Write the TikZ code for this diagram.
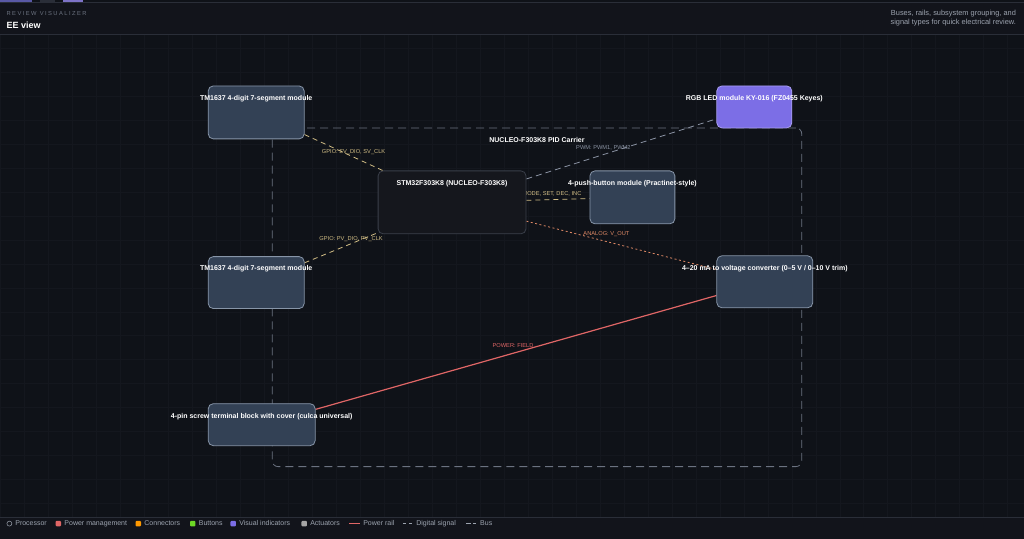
\documentclass[tikz,border=0pt]{standalone}
\usepackage{fontspec}
\setmainfont{Liberation Sans}
\newfontfamily\trackfont[LetterSpace=25]{Liberation Sans}
\usetikzlibrary{positioning, backgrounds, calc}
\definecolor{canvas}{HTML}{0F1218}
\definecolor{headbg}{HTML}{12141B}
\definecolor{gridline}{HTML}{14171E}
\definecolor{rulegray}{HTML}{2A2E38}
\definecolor{slatefill}{HTML}{334155}
\definecolor{slateedge}{HTML}{8795A8}
\definecolor{cpufill}{HTML}{15171D}
\definecolor{cpuedge}{HTML}{3A3F4A}
\definecolor{ledfill}{HTML}{7C6EE6}
\definecolor{lededge}{HTML}{A99EF2}
\definecolor{groupgray}{HTML}{6B7280}
\definecolor{gpiotan}{HTML}{D2BE86}
\definecolor{busgray}{HTML}{8A92A2}
\definecolor{analogorange}{HTML}{E08A66}
\definecolor{powerred}{HTML}{E06666}
\definecolor{mutedtext}{HTML}{9CA3AF}
\definecolor{dimtext}{HTML}{6B7280}

\begin{document}
\begin{tikzpicture}[
  x=1pt, y=-1pt,
  module/.style={rectangle, rounded corners=5pt, draw=slateedge, fill=slatefill,
                 line width=0.8pt, inner sep=0pt},
  cpu/.style={module, draw=cpuedge, fill=cpufill},
  led/.style={module, draw=lededge, fill=ledfill},
  modlbl/.style={anchor=center, yshift=-13pt, inner sep=0pt,
                 font=\fontsize{7}{8}\selectfont\bfseries, text=white},
  groupbox/.style={rectangle, rounded corners=6pt, draw=groupgray, line width=0.8pt,
                   dash pattern=on 8pt off 5pt, inner sep=0pt},
  gpio/.style={draw=gpiotan, line width=0.8pt, dash pattern=on 5pt off 4pt},
  bus/.style={draw=busgray, line width=0.8pt, dash pattern=on 6pt off 4pt},
  analog/.style={draw=analogorange, line width=0.8pt, dash pattern=on 2pt off 2.5pt},
  power/.style={draw=powerred, line width=1.2pt},
  elbl/.style={font=\fontsize{5.7}{6}\selectfont, inner sep=1pt},
  legtxt/.style={anchor=west, inner sep=0pt, text height=5pt, text depth=1.5pt,
                 font=\fontsize{7}{8}\selectfont, text=mutedtext},
  swatch/.style={rectangle, rounded corners=1pt, minimum size=5.5pt, inner sep=0pt},
]
% modules
\node[module, minimum width=96pt, minimum height=53pt,
      label={[modlbl]north:TM1637 4-digit 7-segment module}] (segsv) at (256,112.5) {};
\node[module, minimum width=96pt, minimum height=52pt, below=117pt of segsv,
      label={[modlbl]north:TM1637 4-digit 7-segment module}] (segpv) {};
\node[cpu, minimum width=148pt, minimum height=63pt,
      label={[modlbl]north:STM32F303K8 (NUCLEO-F303K8)}] (mcu) at (452,202.5) {};
\node[module, minimum width=85pt, minimum height=53pt,
      label={[modlbl]north:4-push-button module (Practinet-style)}] (keys) at (632.5,197.5) {};
\node[led, minimum width=75pt, minimum height=42pt,
      label={[modlbl]north:RGB LED module KY-016 (FZ0455 Keyes)}] (rgb) at (754.5,107) {};
\node[module, minimum width=96pt, minimum height=52pt,
      label={[modlbl]north:4--20 mA to voltage converter (0--5 V / 0--10 V trim)}] (conv) at (765,282) {};
\node[module, minimum width=107pt, minimum height=42pt,
      label={[modlbl]north:4-pin screw terminal block with cover (culca universal)}] (term) at (261.5,425) {};

% canvas, grid, carrier and wiring behind the modules
\begin{scope}[on background layer]
  \fill[canvas] (0,0) rectangle (1024,539);
  \draw[gridline, line width=0.5pt, step=24pt] (0,34) grid (1024,518);
  \fill[headbg] (0,2.5) rectangle (1024,34);
  \fill[headbg] (0,518) rectangle (1024,539);
  \draw[rulegray, line width=0.8pt] (0,2.5) -- (1024,2.5);
  \draw[rulegray, line width=0.8pt] (0,34) -- (1024,34);
  \draw[rulegray, line width=0.8pt] (0,518) -- (1024,518);
  \node[groupbox, minimum width=530pt, minimum height=339pt,
        label={[modlbl]north:NUCLEO-F303K8 PID Carrier}] (carrier) at (537,297.5) {};
  \draw[gpio] (segsv) -- node[elbl, text=gpiotan, xshift=10pt] (lblsv) {GPIO: SV\_DIO, SV\_CLK} (mcu);
  \draw[gpio] (segpv) -- node[elbl, text=gpiotan, xshift=10pt, yshift=9pt] (lblpv) {GPIO: PV\_DIO, PV\_CLK} (mcu);
  \draw[bus] (mcu) -- node[elbl, text=busgray, xshift=-18pt, yshift=1pt] (lblpwm) {PWM: PWM1, PWM2} (rgb);
  \draw[gpio] (mcu) -- node[elbl, text=gpiotan, above=2pt, xshift=-6pt] (lblkeys) {MODE, SET, DEC, INC} (keys);
  \draw[analog] (mcu) -- node[elbl, text=analogorange, xshift=-15pt, yshift=11pt] (lblvout) {ANALOG: V\_OUT} (conv);
  \draw[power] (term) -- node[elbl, text=powerred, xshift=-3pt, yshift=7pt] (lblfield) {POWER: FIELD} (conv);
\end{scope}

% header
\fill[blue!30!gray] (0,0) rectangle (32,1.8);
\fill[rulegray] (40,0) rectangle (55,1.8);
\fill[ledfill!70!gray] (63,0) rectangle (83,1.8);
\node[anchor=west, inner sep=0pt, font=\fontsize{5.8}{6}\selectfont\trackfont, text=dimtext] (kicker) at (6,14) {REVIEW VISUALIZER};
\node[anchor=west, inner sep=0pt, font=\fontsize{9}{10}\selectfont\bfseries, text=white] (title) at (6,25.5) {EE view};
\node[anchor=east, inner sep=0pt, align=right, font=\fontsize{7.4}{9}\selectfont, text=mutedtext] (blurb) at (1016.5,18.5)
  {Buses, rails, subsystem grouping, and\\signal types for quick electrical review.};

% legend
\node[swatch, draw=mutedtext, circle, minimum size=5pt, line width=0.5pt] (swcpu) at (9,524) {};
\node[legtxt, right=3pt of swcpu] (lgcpu) {Processor};
\node[swatch, fill=powerred] (swpwr) at (58,524) {};
\node[legtxt, right=3pt of swpwr] (lgpwr) {Power management};
\node[swatch, fill=orange!80!yellow] (swcon) at (138,524) {};
\node[legtxt, right=3pt of swcon] (lgcon) {Connectors};
\node[swatch, fill=green!60!yellow!70!gray] (swbtn) at (192.5,524) {};
\node[legtxt, right=3pt of swbtn] (lgbtn) {Buttons};
\node[swatch, fill=ledfill] (swvis) at (233,524) {};
\node[legtxt, right=3pt of swvis] (lgvis) {Visual indicators};
\node[swatch, fill=gray!70] (swact) at (304,524) {};
\node[legtxt, right=3pt of swact] (lgact) {Actuators};
\coordinate (rl0) at (349,524);
\coordinate (rl1) at (360,524);
\draw[power, line width=0.9pt] (rl0) -- (rl1);
\node[legtxt, right=3pt of rl1] (lgrail) {Power rail};
\coordinate (dg0) at (403,524);
\coordinate (dg1) at (412,524);
\draw[draw=mutedtext, line width=0.7pt, dash pattern=on 3pt off 3pt] (dg0) -- (dg1);
\node[legtxt, right=4pt of dg1] (lgdig) {Digital signal};
\coordinate (bs0) at (466,524);
\coordinate (bs1) at (476,524);
\draw[draw=mutedtext, line width=0.7pt, dash pattern=on 5pt off 2pt] (bs0) -- (bs1);
\node[legtxt, right=4pt of bs1] (lgbus) {Bus};
\end{tikzpicture}
\end{document}
